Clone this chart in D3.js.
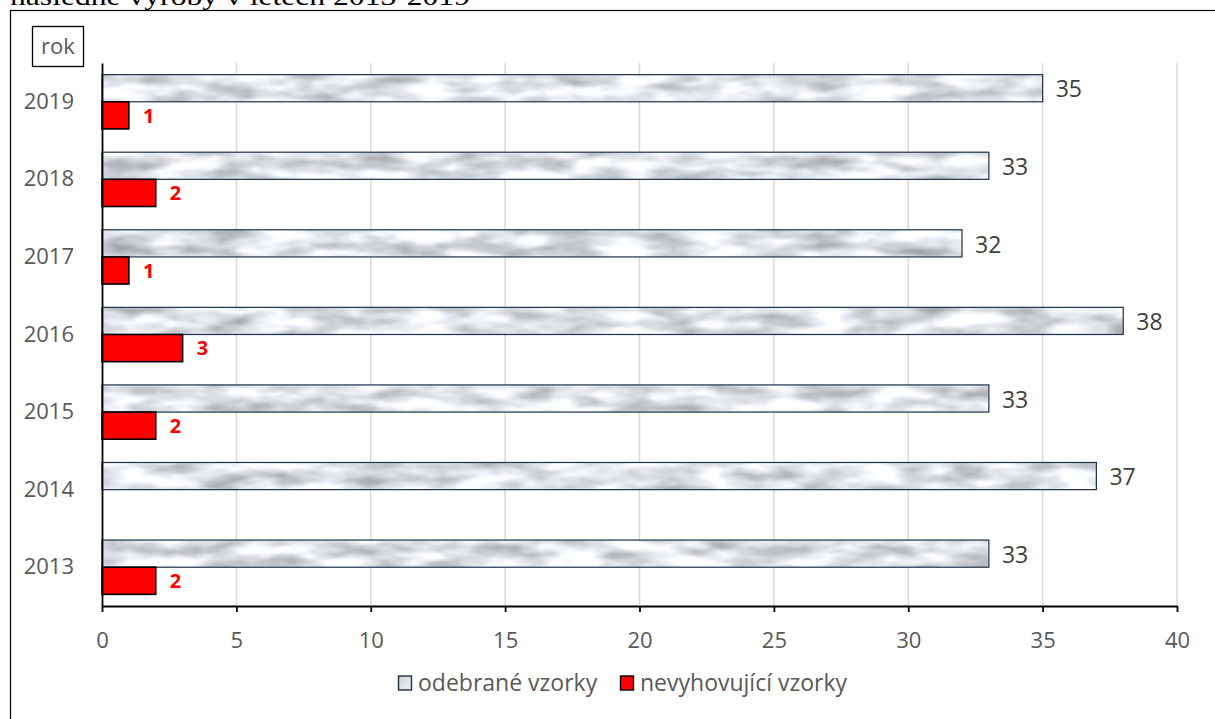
<!DOCTYPE html>
<html>
<head>
<meta charset="utf-8">
<script src="https://cdn.jsdelivr.net/npm/d3@7"></script>
<style>
  html, body { margin: 0; padding: 0; background: #fff; }
  svg { display: block; }
  text { font-family: "Open Sans", sans-serif; }
</style>
</head>
<body>
<svg id="chart" width="1215" height="719"></svg>
<script>
// Years shown on the vertical axis (top to bottom: newest first)
const years = ["2019", "2018", "2017", "2016", "2015", "2014", "2013"];
// Samples taken per year
const sampled = [35, 33, 32, 38, 33, 37, 33];
// Non-compliant samples per year (none recorded for 2014)
const failing = [1, 2, 1, 3, 2, null, 2];
// Horizontal axis ticks
const xTicks = [0, 5, 10, 15, 20, 25, 30, 35, 40];
const seriesNames = ["odebrané vzorky", "nevyhovující vzorky"];
const titleText = "následné výroby v letech 2013-2019";
const axisTitle = "rok";

const svg = d3.select("#chart");
const defs = svg.append("defs");

// Marble-like texture for the sampled bars
const marble = defs.append("filter")
  .attr("id", "marble")
  .attr("x", 0).attr("y", 0).attr("width", 1).attr("height", 1)
  .attr("color-interpolation-filters", "sRGB");
marble.append("feTurbulence")
  .attr("type", "fractalNoise")
  .attr("baseFrequency", "0.02 0.07")
  .attr("numOctaves", 3)
  .attr("seed", 11)
  .attr("result", "noise");
marble.append("feColorMatrix")
  .attr("in", "noise")
  .attr("type", "matrix")
  .attr("values",
    "-0.65 0 0 0 1.2  -0.65 0 0 0 1.215  -0.65 0 0 0 1.235  0 0 0 0 1")
  .attr("result", "tone");
marble.append("feGaussianBlur")
  .attr("in", "tone").attr("stdDeviation", 1.2).attr("result", "soft");
marble.append("feComposite")
  .attr("in", "soft").attr("in2", "SourceGraphic").attr("operator", "in");

const legendGrad = defs.append("linearGradient")
  .attr("id", "legendGray").attr("x1", 0).attr("y1", 0).attr("x2", 1).attr("y2", 1);
legendGrad.append("stop").attr("offset", "0%").attr("stop-color", "#c9cfd6");
legendGrad.append("stop").attr("offset", "100%").attr("stop-color", "#f2f4f6");

// Heading above the frame (only its lower part sits inside the page)
svg.append("text")
  .attr("x", 10).attr("y", 4.5)
  .attr("textLength", 460)
  .attr("lengthAdjust", "spacingAndGlyphs")
  .style("font-family", "'Liberation Serif', 'Times New Roman', serif")
  .style("font-size", "26px")
  .attr("fill", "#000")
  .text(titleText);

// Chart frame
svg.append("rect")
  .attr("x", 10.5).attr("y", 10.5)
  .attr("width", 1220).attr("height", 720)
  .attr("fill", "none").attr("stroke", "#000").attr("stroke-width", 1.2);

// Axis title box
svg.append("rect")
  .attr("x", 32.5).attr("y", 26.5).attr("width", 51).attr("height", 40)
  .attr("fill", "#fff").attr("stroke", "#000").attr("stroke-width", 1.3);
svg.append("text")
  .attr("x", 58).attr("y", 54)
  .attr("text-anchor", "middle")
  .style("font-size", "22px")
  .attr("fill", "#595959")
  .text(axisTitle);

const plotLeft = 102, plotRight = 1177, plotTop = 63, plotBottom = 606;

const x = d3.scaleLinear().domain([0, 40]).range([plotLeft, plotRight]);
const y = d3.scaleBand().domain(years).range([plotTop, plotBottom])
  .paddingInner(0.3).paddingOuter(0.15);
const sub = d3.scaleBand().domain([0, 1]).range([0, y.bandwidth()]);

// Vertical gridlines
svg.append("g").selectAll("line")
  .data(xTicks.filter(d => d > 0))
  .join("line")
  .attr("x1", d => x(d)).attr("x2", d => x(d))
  .attr("y1", plotTop).attr("y2", plotBottom)
  .attr("stroke", "#d9d9d9").attr("stroke-width", 1.5);

// Sampled bars
const rows = years.map((yr, i) => ({ yr, s: sampled[i], f: failing[i] }));

const grayG = svg.append("g");
grayG.selectAll("rect.fill")
  .data(rows)
  .join("rect")
  .attr("class", "fill")
  .attr("x", x(0))
  .attr("y", d => y(d.yr) + sub(0))
  .attr("width", d => x(d.s) - x(0))
  .attr("height", sub.bandwidth())
  .attr("fill", "#fff")
  .attr("filter", "url(#marble)");
grayG.selectAll("rect.edge")
  .data(rows)
  .join("rect")
  .attr("class", "edge")
  .attr("x", x(0))
  .attr("y", d => y(d.yr) + sub(0))
  .attr("width", d => x(d.s) - x(0))
  .attr("height", sub.bandwidth())
  .attr("fill", "none")
  .attr("stroke", "#1f3047").attr("stroke-width", 1.2);

// Non-compliant bars
svg.append("g").selectAll("rect")
  .data(rows.filter(d => d.f != null))
  .join("rect")
  .attr("x", x(0))
  .attr("y", d => y(d.yr) + sub(1))
  .attr("width", d => x(d.f) - x(0))
  .attr("height", sub.bandwidth())
  .attr("fill", "#ff0000")
  .attr("stroke", "#000").attr("stroke-width", 1.6);

// Value labels
svg.append("g").selectAll("text")
  .data(rows)
  .join("text")
  .attr("x", d => x(d.s) + 13)
  .attr("y", d => y(d.yr) + sub(0) + sub.bandwidth() / 2 + 1)
  .attr("dy", "0.36em")
  .style("font-size", "23px")
  .attr("fill", "#404040")
  .text(d => d.s);

svg.append("g").selectAll("text")
  .data(rows.filter(d => d.f != null))
  .join("text")
  .attr("x", d => x(d.f) + 14)
  .attr("y", d => y(d.yr) + sub(1) + sub.bandwidth() / 2)
  .attr("dy", "0.36em")
  .style("font-size", "20px")
  .style("font-weight", "bold")
  .attr("fill", "#ff0000")
  .text(d => d.f);

// X axis
const xAxis = svg.append("g")
  .attr("transform", `translate(0,${plotBottom})`)
  .call(d3.axisBottom(x).tickValues(xTicks).tickSize(6).tickPadding(20).tickSizeOuter(0));
xAxis.select(".domain").attr("stroke", "#000").attr("stroke-width", 1.8);
xAxis.selectAll(".tick line").attr("stroke", "#000").attr("stroke-width", 1.8);
xAxis.selectAll(".tick text")
  .style("font-family", "'Open Sans', sans-serif")
  .style("font-size", "22px")
  .attr("fill", "#595959");

// Y axis
const yAxis = svg.append("g")
  .attr("transform", `translate(${plotLeft},0)`)
  .call(d3.axisLeft(y).tickSize(0).tickPadding(28).tickSizeOuter(0));
yAxis.select(".domain").attr("stroke", "#000").attr("stroke-width", 1.8);
yAxis.selectAll(".tick text")
  .style("font-family", "'Open Sans', sans-serif")
  .style("font-size", "22px")
  .attr("fill", "#595959");

// Legend
const legend = svg.append("g").attr("transform", "translate(398,683)");
const items = [
  { name: seriesNames[0], fill: "url(#legendGray)", stroke: "#1f3047", w: 0 },
  { name: seriesNames[1], fill: "#ff0000", stroke: "#000", w: 222 }
];
const li = legend.selectAll("g").data(items).join("g")
  .attr("transform", d => `translate(${d.w},0)`);
li.append("rect")
  .attr("x", 0.5).attr("y", -7).attr("width", 13).attr("height", 14)
  .attr("fill", d => d.fill).attr("stroke", d => d.stroke).attr("stroke-width", 1.4);
li.append("text")
  .attr("x", 20).attr("y", 0).attr("dy", "0.36em")
  .style("font-size", "23px")
  .attr("fill", "#595959")
  .text(d => d.name);
</script>
</body>
</html>
